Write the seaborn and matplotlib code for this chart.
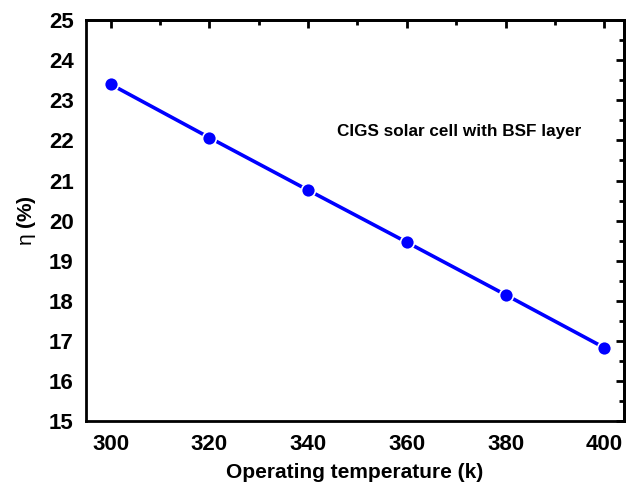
import matplotlib
matplotlib.use("Agg")
import matplotlib.pyplot as plt
from matplotlib.ticker import MultipleLocator, AutoMinorLocator
import seaborn as sns
import pandas as pd

# Efficiency of the CIGS cell versus operating temperature
temperature_k = [300, 320, 340, 360, 380, 400]
efficiency_pct = [23.40, 22.07, 20.76, 19.46, 18.15, 16.83]

sns.set_theme(style="white")
plt.rcParams["font.family"] = ["Liberation Sans", "DejaVu Sans"]
plt.rcParams["mathtext.fontset"] = "custom"
plt.rcParams["mathtext.rm"] = "Liberation Sans:weight=normal"
for key in ("text.color", "axes.labelcolor", "xtick.color", "ytick.color",
            "axes.edgecolor"):
    plt.rcParams[key] = "black"

df = pd.DataFrame({"T": temperature_k, "eta": efficiency_pct})

fig = plt.figure(figsize=(6.26, 4.93), dpi=100)
ax = fig.add_axes([0.1374, 0.146, 0.8594, 0.813])

sns.lineplot(data=df, x="T", y="eta", ax=ax, color="#0000ff", linewidth=2.6,
             marker="o", markersize=10, markeredgecolor="white",
             markeredgewidth=1.2)

ax.set_xlim(295, 404)
ax.set_ylim(15, 25)
ax.xaxis.set_major_locator(MultipleLocator(20))
ax.xaxis.set_minor_locator(AutoMinorLocator(2))
ax.yaxis.set_major_locator(MultipleLocator(1))
ax.yaxis.set_minor_locator(AutoMinorLocator(2))

for s in ax.spines.values():
    s.set_linewidth(2.0)
    s.set_color("black")

ax.tick_params(which="major", direction="out", length=6, width=2.0,
               labelsize=16, color="black", labelcolor="black", pad=3)
ax.tick_params(which="minor", direction="out", length=3.5, width=2.0,
               color="black")
for lbl in ax.get_xticklabels() + ax.get_yticklabels():
    lbl.set_fontweight("bold")

# mirrored inward ticks on the top and right edges
top = ax.secondary_xaxis("top")
top.xaxis.set_major_locator(MultipleLocator(20))
top.xaxis.set_minor_locator(AutoMinorLocator(2))
top.tick_params(which="major", direction="in", length=6, width=2.0,
                labeltop=False, color="black")
top.tick_params(which="minor", direction="in", length=3.5, width=2.0,
                color="black")
top.spines["top"].set_linewidth(2.0)

right = ax.secondary_yaxis("right")
right.yaxis.set_major_locator(MultipleLocator(1))
right.yaxis.set_minor_locator(AutoMinorLocator(2))
right.tick_params(which="major", direction="in", length=6, width=2.0,
                  labelright=False, color="black")
right.tick_params(which="minor", direction="in", length=3.5, width=2.0,
                  color="black")
right.spines["right"].set_linewidth(2.0)

ax.set_xlabel("Operating temperature (k)", fontsize=15, fontweight="bold",
              labelpad=6)
ax.set_ylabel("$\\mathrm{\\eta}$ (%)", fontsize=15, fontweight="bold",
              labelpad=8)

ax.text(345.9, 22.23, "CIGS solar cell with BSF layer", fontsize=12.3,
        fontweight="bold", ha="left", va="center", color="black")

fig.savefig("out.png", dpi=100)
